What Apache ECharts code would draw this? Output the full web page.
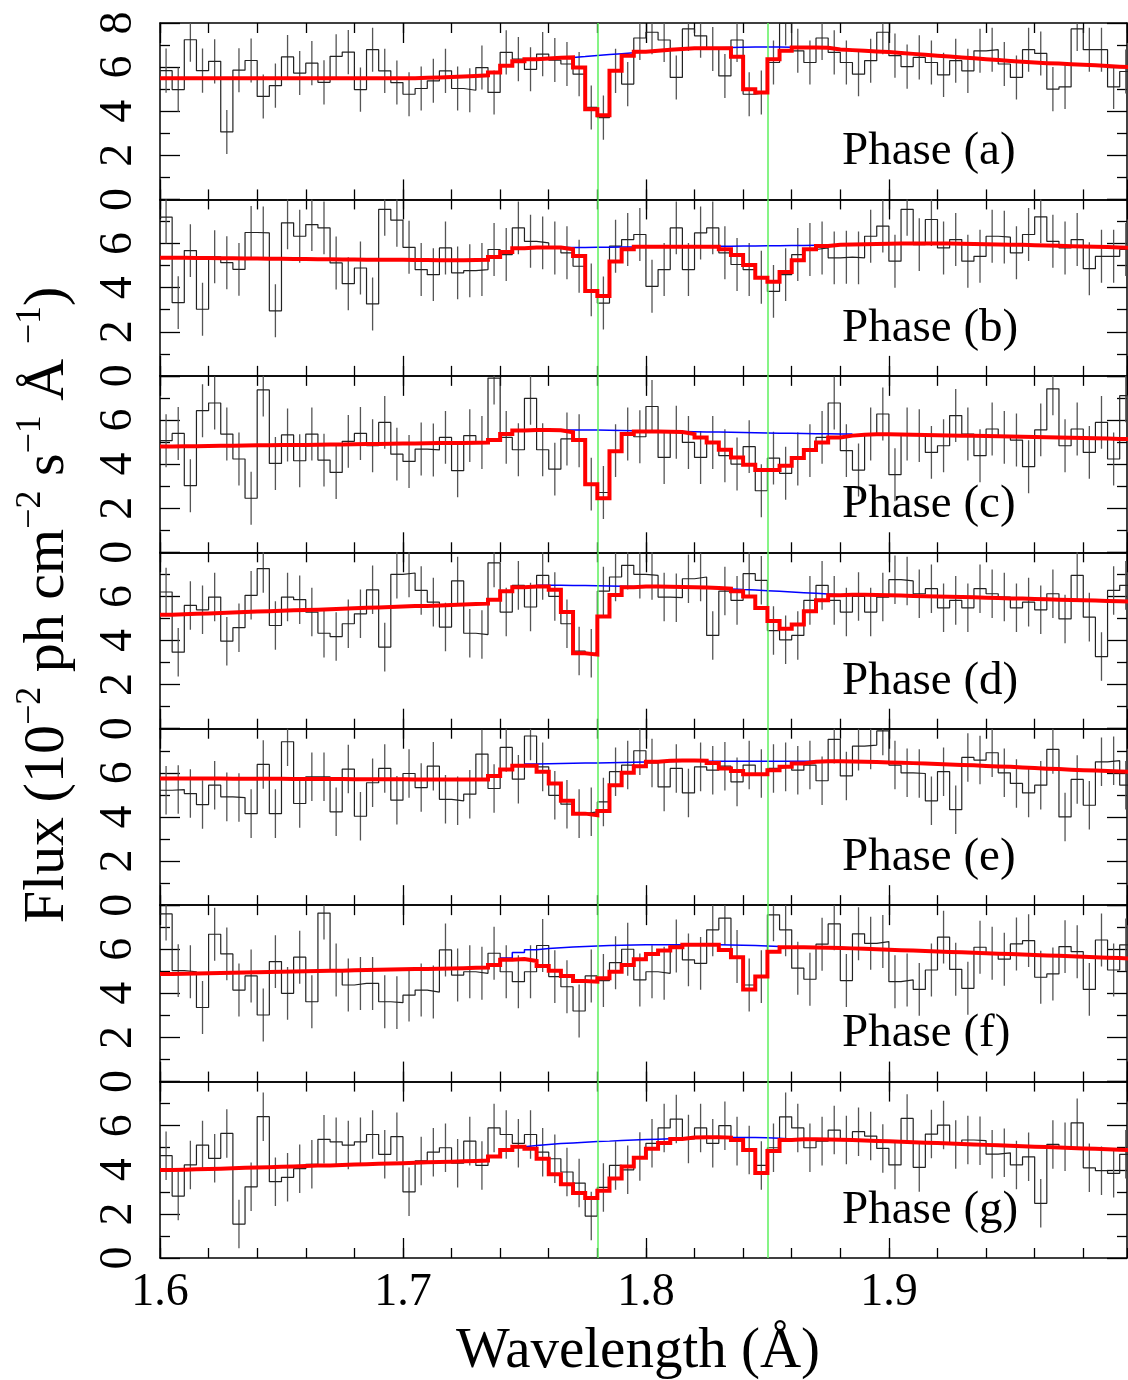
<!DOCTYPE html>
<html>
<head>
<meta charset="utf-8">
<script src="https://cdn.jsdelivr.net/npm/echarts@6/dist/echarts.min.js"></script>
<style>
html,body{margin:0;padding:0;background:#fff;}
#chart{width:1128px;height:1380px;}
</style>
</head>
<body>
<div id="chart"></div>
<script>
// ---------------- data ----------------
const X_MIN = 1.6, X_MAX = 1.998, BIN_WIDTH = 0.005;
const Y_MIN = 0, Y_MAX = 8;
const LINE_WAVELENGTHS = [1.778, 1.8504];
const PHASE_NAMES = ['Phase (a)', 'Phase (b)', 'Phase (c)', 'Phase (d)', 'Phase (e)', 'Phase (f)', 'Phase (g)'];
const X_TITLE = 'Wavelength (Å)';

const obsA = [5.84,4.98,7.24,5.84,6.26,3.06,5.86,6.3,4.67,5.16,6.46,5.73,6.18,5.31,6.49,6.68,4.98,6.79,5.83,5.3,4.77,5.03,5.38,5.83,5.03,4.95,5.98,4.85,6.67,6.36,5.9,6.59,6.32,6.14,5.68,4.17,3.71,5.83,5.23,7.32,7.58,7.23,5.53,7.73,7.42,6.82,5.6,7.23,4.77,4.85,6.21,7.98,6.74,6.21,7.32,6.67,6.21,5.68,6.29,7.58,6.52,6.02,6.44,6.21,5.65,6.29,5.83,6.74,6.79,6.14,5.53,6.79,6.62,5.0,5.1,7.73,6.79,6.79,5.1,5.8];
const modelA = [5.5,5.5,5.5,5.5,5.5,5.5,5.5,5.5,5.5,5.5,5.5,5.5,5.5,5.5,5.5,5.5,5.5,5.5,5.5,5.5,5.5,5.52,5.53,5.55,5.57,5.6,5.63,5.76,6.06,6.26,6.36,6.39,6.42,6.44,5.98,4.09,3.82,5.83,6.52,6.7,6.74,6.79,6.82,6.85,6.86,6.86,6.86,6.47,5.0,4.85,6.36,6.74,6.89,6.89,6.88,6.8,6.77,6.74,6.71,6.68,6.64,6.6,6.56,6.52,6.48,6.44,6.4,6.36,6.32,6.28,6.24,6.21,6.18,6.16,6.13,6.11,6.08,6.05,6.02,6.0];
const contStartA = 1.765;
const contA = [6.44,6.48,6.53,6.57,6.61,6.65,6.7,6.74,6.78,6.81,6.84,6.86,6.88,6.89,6.9,6.91,6.91,6.91,6.9,6.89];
const errA = 1.0;

const obsB = [7.2,3.32,5.68,3.02,5.4,5.13,4.83,6.5,6.48,2.95,6.94,6.33,6.86,6.71,5.12,4.18,4.89,3.26,7.55,7.06,5.83,4.82,4.59,5.8,4.67,4.77,4.82,5.73,5.5,6.71,6.1,6.03,5.8,5.58,4.97,3.9,3.3,5.88,6.18,6.41,4.06,4.82,6.71,4.82,6.48,6.71,5.58,5.05,4.82,4.47,3.83,4.59,5.5,5.73,5.8,5.35,5.38,5.35,6.33,6.79,5.2,7.55,5.95,7.09,5.8,6.18,5.2,5.42,6.33,6.29,5.58,6.41,7.21,6.1,5.8,6.18,4.86,5.42,5.42,5.73];
const modelB = [5.35,5.35,5.34,5.34,5.33,5.33,5.32,5.32,5.31,5.31,5.3,5.3,5.29,5.29,5.28,5.28,5.27,5.27,5.26,5.26,5.25,5.25,5.24,5.24,5.24,5.25,5.26,5.39,5.62,5.79,5.82,5.82,5.82,5.74,5.44,3.85,3.62,5.18,5.74,5.85,5.85,5.85,5.85,5.85,5.85,5.85,5.74,5.48,5.03,4.45,4.27,4.71,5.24,5.74,5.89,5.94,5.96,5.97,5.98,5.99,6.0,6.0,6.0,6.0,6.0,5.99,5.98,5.97,5.96,5.95,5.94,5.92,5.91,5.9,5.88,5.87,5.85,5.84,5.82,5.8];
const contStartB = 1.765;
const contB = [5.82,5.82,5.83,5.83,5.84,5.84,5.85,5.85,5.86,5.86,5.87,5.87,5.88,5.88,5.89,5.89,5.9,5.9,5.91,5.91,5.92,5.92];
const errB = 1.2;

const obsC = [5.06,5.39,3.02,6.42,6.77,5.36,4.23,2.45,7.36,4.03,5.32,4.15,5.36,4.18,3.62,5.03,5.39,4.83,5.89,4.45,4.12,4.68,4.64,5.21,3.7,5.29,4.98,7.9,5.21,4.65,6.98,4.65,3.77,5.14,5.06,3.09,2.71,4.61,5.36,5.24,6.61,4.3,5.44,4.98,4.3,4.98,4.38,4.0,4.79,2.79,4.27,3.58,4.23,4.61,5.21,6.77,4.61,3.73,5.36,6.27,3.52,5.36,5.29,4.53,4.83,6.2,5.36,4.38,5.59,5.21,5.09,3.88,5.55,7.41,4.83,5.59,4.53,5.89,4.23,7.1];
const modelC = [4.8,4.81,4.81,4.82,4.83,4.83,4.84,4.85,4.85,4.86,4.87,4.87,4.88,4.89,4.89,4.9,4.91,4.91,4.92,4.93,4.93,4.94,4.95,4.95,4.96,4.97,4.98,5.09,5.36,5.52,5.55,5.55,5.53,5.44,5.09,3.09,2.45,4.58,5.36,5.48,5.48,5.47,5.45,5.36,5.21,4.98,4.65,4.3,3.97,3.73,3.73,3.92,4.27,4.64,4.98,5.21,5.29,5.33,5.35,5.35,5.34,5.33,5.32,5.31,5.3,5.29,5.28,5.27,5.26,5.25,5.24,5.23,5.22,5.2,5.19,5.18,5.17,5.16,5.14,5.13];
const contStartC = 1.765;
const contC = [5.55,5.54,5.54,5.53,5.52,5.51,5.5,5.5,5.49,5.48,5.47,5.46,5.45,5.44,5.43,5.42,5.41,5.4,5.4,5.39,5.38,5.37,5.36,5.36];
const errC = 1.2;

const obsD = [6.2,3.47,5.59,5.39,5.97,3.97,4.58,6.05,7.26,4.68,5.97,5.85,5.29,4.33,4.18,4.76,5.21,6.3,3.7,7.0,7.06,6.27,5.74,4.61,6.7,4.33,4.27,7.52,5.29,6.5,5.52,6.95,6.0,4.76,3.52,3.42,6.24,6.88,7.41,7.0,6.95,5.97,5.94,6.8,6.88,4.23,6.24,5.82,7.03,6.73,4.45,4.03,4.23,5.82,6.5,5.82,5.29,6.0,5.29,5.97,6.76,6.7,6.12,6.35,5.48,5.82,5.48,6.35,6.12,5.97,5.48,5.74,5.39,6.12,4.98,6.95,5.06,3.27,6.27,6.5];
const modelD = [5.17,5.19,5.21,5.23,5.25,5.27,5.29,5.31,5.33,5.35,5.37,5.38,5.4,5.42,5.44,5.46,5.48,5.5,5.52,5.54,5.56,5.57,5.59,5.61,5.63,5.65,5.67,5.85,6.23,6.42,6.45,6.45,6.3,5.29,3.42,3.36,5.09,6.06,6.42,6.45,6.45,6.44,6.43,6.42,6.4,6.38,6.35,6.23,6.0,5.47,4.88,4.53,4.73,5.33,5.82,6.05,6.08,6.07,6.06,6.05,6.04,6.02,6.01,6.0,5.98,5.97,5.96,5.94,5.93,5.91,5.9,5.88,5.87,5.85,5.84,5.82,5.81,5.79,5.78,5.76];
const contStartD = 1.755;
const contD = [6.5,6.5,6.49,6.49,6.48,6.47,6.46,6.45,6.44,6.43,6.42,6.41,6.4,6.38,6.36,6.34,6.31,6.29,6.26,6.23,6.2,6.17,6.14,6.11,6.08];
const errD = 1.1;

const obsE = [5.21,5.24,5.06,4.56,5.44,4.91,4.88,4.15,6.38,4.15,7.41,4.61,5.82,5.82,4.23,6.17,4.03,5.55,6.2,4.76,5.97,5.33,6.3,4.8,4.73,5.03,6.85,5.29,7.15,5.71,7.67,6.27,4.98,4.58,4.15,4.23,4.68,6.05,6.35,7.0,6.45,5.36,6.2,5.09,6.27,6.12,6.3,5.59,6.35,5.97,6.2,6.27,6.12,6.35,5.64,7.52,5.86,7.21,7.26,7.9,6.35,6.0,5.97,4.73,6.05,4.33,6.7,6.58,6.91,6.0,5.52,5.09,5.44,7.06,4.0,5.7,4.53,6.5,6.55,5.44];
const modelE = [5.74,5.74,5.74,5.74,5.74,5.73,5.73,5.73,5.73,5.73,5.72,5.72,5.72,5.72,5.72,5.71,5.71,5.71,5.71,5.71,5.7,5.7,5.7,5.7,5.7,5.7,5.7,5.86,6.15,6.32,6.32,6.05,5.52,4.73,4.15,4.08,4.27,5.44,6.0,6.3,6.5,6.55,6.56,6.56,6.55,6.45,6.2,6.08,5.94,5.94,6.12,6.27,6.42,6.5,6.52,6.52,6.51,6.5,6.49,6.47,6.46,6.44,6.42,6.4,6.38,6.36,6.34,6.31,6.29,6.27,6.24,6.22,6.19,6.17,6.14,6.12,6.1,6.08,6.06,6.04];
const contStartE = 1.75;
const contE = [6.4,6.41,6.42,6.43,6.44,6.45,6.46,6.47,6.48,6.49,6.5,6.51,6.52,6.52,6.53,6.53,6.53,6.53,6.53,6.53,6.53,6.53,6.52,6.52];
const errE = 1.1;

const obsF = [7.6,5.03,4.98,3.36,6.68,5.79,4.15,4.79,3.02,5.44,4.0,5.64,3.62,7.64,5.06,4.38,4.45,4.45,3.62,3.58,3.92,4.15,4.06,5.97,4.83,4.98,4.91,5.82,4.98,4.53,4.98,6.17,4.76,4.3,3.2,4.79,4.58,5.39,6.0,4.61,4.98,4.91,6.15,5.52,5.36,6.88,7.41,5.67,4.38,4.76,7.56,6.88,5.14,4.64,6.23,7.15,4.58,6.7,6.27,6.35,4.53,4.61,4.18,5.06,6.55,5.09,4.23,6.09,5.82,5.55,6.24,6.39,4.73,4.88,6.12,5.89,4.18,6.42,5.06,6.2];
const modelF = [4.88,4.89,4.9,4.91,4.92,4.94,4.95,4.96,4.97,4.98,4.99,5.0,5.01,5.02,5.03,5.05,5.06,5.07,5.08,5.09,5.1,5.11,5.12,5.13,5.14,5.16,5.17,5.29,5.52,5.56,5.47,5.24,5.03,4.79,4.56,4.53,4.68,4.98,5.29,5.55,5.79,5.94,6.09,6.2,6.2,6.2,5.97,5.64,4.18,4.76,5.89,6.09,6.09,6.08,6.07,6.06,6.04,6.02,6.0,5.98,5.96,5.94,5.92,5.9,5.88,5.86,5.84,5.82,5.8,5.78,5.76,5.74,5.72,5.7,5.68,5.66,5.64,5.62,5.6,5.58];
const contStartF = 1.74;
const contF = [5.6,5.85,5.98,6.03,6.07,6.1,6.13,6.15,6.17,6.18,6.19,6.2,6.2,6.2,6.2,6.2,6.2,6.2,6.19,6.18,6.17,6.15,6.12];
const errF = 1.2;

const obsG = [4.64,2.81,4.22,5.12,4.52,5.65,1.54,3.23,6.41,3.46,3.66,4.05,4.25,5.38,5.27,5.12,5.27,5.6,4.7,5.5,3.0,4.4,4.8,5.0,4.3,5.3,4.2,5.9,5.6,5.2,5.6,4.8,4.5,3.9,3.4,1.9,3.2,4.2,4.0,4.6,5.2,5.9,6.3,5.4,5.9,5.2,6.0,5.3,4.9,4.2,5.0,6.4,5.9,5.0,5.3,5.8,5.35,5.73,5.53,4.97,4.22,6.33,4.11,5.62,6.03,5.15,5.35,5.32,4.71,4.77,4.22,4.59,2.48,5.15,5.05,6.13,4.09,3.96,3.84,4.7];
const modelG = [3.99,4.0,4.02,4.04,4.05,4.07,4.09,4.1,4.12,4.14,4.15,4.17,4.19,4.2,4.22,4.24,4.25,4.27,4.29,4.3,4.32,4.34,4.35,4.37,4.39,4.4,4.42,4.6,4.9,5.05,4.95,4.5,3.8,3.35,2.95,2.72,3.05,3.6,4.15,4.55,4.95,5.22,5.4,5.46,5.48,5.48,5.46,5.35,4.9,3.85,4.85,5.35,5.38,5.38,5.37,5.36,5.35,5.33,5.31,5.29,5.27,5.25,5.23,5.21,5.19,5.17,5.15,5.13,5.11,5.09,5.07,5.05,5.03,5.01,4.99,4.97,4.95,4.93,4.91,4.9];
const contStartG = 1.74;
const contG = [4.95,5.05,5.1,5.15,5.19,5.22,5.25,5.28,5.3,5.33,5.35,5.37,5.39,5.41,5.43,5.45,5.46,5.47,5.47,5.47,5.46,5.45,5.43,5.4];
const errG = 1.1;

// ---------------- assembly ----------------
const panels = [
  {name: PHASE_NAMES[0], obs: obsA, model: modelA, cont: contA, contStart: contStartA, err: errA},
  {name: PHASE_NAMES[1], obs: obsB, model: modelB, cont: contB, contStart: contStartB, err: errB},
  {name: PHASE_NAMES[2], obs: obsC, model: modelC, cont: contC, contStart: contStartC, err: errC},
  {name: PHASE_NAMES[3], obs: obsD, model: modelD, cont: contD, contStart: contStartD, err: errD},
  {name: PHASE_NAMES[4], obs: obsE, model: modelE, cont: contE, contStart: contStartE, err: errE},
  {name: PHASE_NAMES[5], obs: obsF, model: modelF, cont: contF, contStart: contStartF, err: errF},
  {name: PHASE_NAMES[6], obs: obsG, model: modelG, cont: contG, contStart: contStartG, err: errG}
];

const FONT = '"Liberation Serif", "Times New Roman", serif';
const GRID_LEFT = 160, GRID_W = 967, GRID_TOP = 23, PANEL_H = 176.43;
const N = panels.length;

function stepData(start, vals) {
  const pts = vals.map((v, i) => [+(start + i * BIN_WIDTH).toFixed(4), v]);
  pts.push([+(start + vals.length * BIN_WIDTH).toFixed(4), vals[vals.length - 1]]);
  return pts;
}

const grids = [], xAxes = [], yAxes = [], series = [], graphics = [];
const axisLineStyle = {color: '#000', width: 1.5};

panels.forEach((p, i) => {
  const top = GRID_TOP + i * PANEL_H;
  grids.push({left: GRID_LEFT, top: top, width: GRID_W, height: PANEL_H, containLabel: false, outerBoundsMode: 'none'});
  const xBase = {type: 'value', gridIndex: i, min: X_MIN, max: X_MAX, splitLine: {show: false}};
  xAxes.push(Object.assign({}, xBase, {
    position: 'bottom', interval: 0.1,
    axisLine: {show: true, lineStyle: axisLineStyle},
    axisTick: {show: true, inside: true, length: 20, lineStyle: {color: '#000', width: 1.3}},
    axisLabel: {show: i === N - 1, showMaxLabel: false, margin: 12, color: '#000', fontSize: 46, fontFamily: FONT,
      formatter: v => v.toFixed(1)}
  }));
  xAxes.push(Object.assign({}, xBase, {
    position: 'bottom', interval: 0.02,
    axisLine: {show: false},
    axisTick: {show: true, inside: true, length: 10, lineStyle: {color: '#000', width: 1.3}},
    axisLabel: {show: false}
  }));
  xAxes.push(Object.assign({}, xBase, {
    position: 'top', interval: 0.1,
    axisLine: {show: true, lineStyle: axisLineStyle},
    axisTick: {show: true, inside: true, length: 20, lineStyle: {color: '#000', width: 1.3}},
    axisLabel: {show: false}
  }));
  xAxes.push(Object.assign({}, xBase, {
    position: 'top', interval: 0.02,
    axisLine: {show: false},
    axisTick: {show: true, inside: true, length: 10, lineStyle: {color: '#000', width: 1.3}},
    axisLabel: {show: false}
  }));
  const yBase = {type: 'value', gridIndex: i, min: Y_MIN, max: Y_MAX, interval: 2, splitLine: {show: false},
    axisLine: {show: true, lineStyle: axisLineStyle},
    axisTick: {show: true, inside: true, length: 20, lineStyle: {color: '#000', width: 1.3}},
    minorTick: {show: true, splitNumber: 2, length: 10, lineStyle: {color: '#000', width: 1.3}}};
  yAxes.push(Object.assign({}, yBase, {
    position: 'left',
    axisLabel: {show: true, rotate: 90, margin: 18, showMaxLabel: i === 0, showMinLabel: true,
      color: '#000', fontSize: 46, fontFamily: FONT, formatter: v => String(v)}
  }));
  yAxes.push(Object.assign({}, yBase, {position: 'right', axisLabel: {show: false}}));

  const xi = i * 4, yi = i * 2;
  series.push({
    type: 'line', xAxisIndex: xi, yAxisIndex: yi, step: 'end', symbol: 'none', clip: true,
    data: stepData(X_MIN, p.obs), z: 3,
    lineStyle: {color: '#222', width: 1.2},
    markLine: {
      silent: true, symbol: ['none', 'none'], label: {show: false}, animation: false,
      lineStyle: {color: '#5ef05e', width: 1.5, type: 'solid'},
      data: LINE_WAVELENGTHS.map(w => ({xAxis: w}))
    }
  });
  series.push({
    type: 'custom', xAxisIndex: xi, yAxisIndex: yi, clip: true, z: 3,
    data: p.obs.map((v, k) => [X_MIN + (k + 0.5) * BIN_WIDTH, v, p.err]),
    encode: {x: 0, y: 1},
    renderItem: (params, api) => {
      const x = api.value(0), v = api.value(1), e = api.value(2);
      const a = api.coord([x, v - e]), b = api.coord([x, v + e]);
      return {type: 'line', shape: {x1: a[0], y1: a[1], x2: b[0], y2: b[1]},
        style: {stroke: '#555', lineWidth: 1.3}};
    }
  });
  series.push({
    type: 'line', xAxisIndex: xi, yAxisIndex: yi, step: 'end', symbol: 'none', clip: true,
    data: stepData(p.contStart, p.cont), z: 4,
    lineStyle: {color: '#0000ff', width: 1.5}
  });
  series.push({
    type: 'line', xAxisIndex: xi, yAxisIndex: yi, step: 'end', symbol: 'none', clip: true,
    data: stepData(X_MIN, p.model), z: 5,
    lineStyle: {color: '#ff0000', width: 4, join: 'miter'}
  });
  graphics.push({
    type: 'text', x: 842, y: top + 129, z: 10,
    style: {text: p.name, fill: '#000', fontSize: 47, fontFamily: FONT, align: 'left', verticalAlign: 'middle'}
  });
});

graphics.push({
  type: 'text', x: 638, y: 1352, z: 10,
  style: {text: X_TITLE, fill: '#000', fontSize: 57, fontFamily: FONT, align: 'center', verticalAlign: 'middle'}
});
graphics.push({
  type: 'text', x: 45, y: 605, rotation: Math.PI / 2, z: 10,
  style: {
    text: '{n|Flux (10}{s|−2}{n| ph cm}{s|−2}{n| s}{s|−1}{n| Å }{s|−1}{n|)}',
    fill: '#000', align: 'center', verticalAlign: 'middle', fontFamily: FONT, fontSize: 58,
    rich: {
      n: {fontSize: 58, fontFamily: FONT, fill: '#000', color: '#000', lineHeight: 64, verticalAlign: 'bottom'},
      s: {fontSize: 36, fontFamily: FONT, fill: '#000', color: '#000', lineHeight: 40, verticalAlign: 'top'}
    }
  }
});

const chart = echarts.init(document.getElementById('chart'), null, {renderer: 'canvas'});
chart.setOption({
  animation: false,
  backgroundColor: '#fff',
  grid: grids,
  xAxis: xAxes,
  yAxis: yAxes,
  series: series,
  graphic: graphics
});
</script>
</body>
</html>
